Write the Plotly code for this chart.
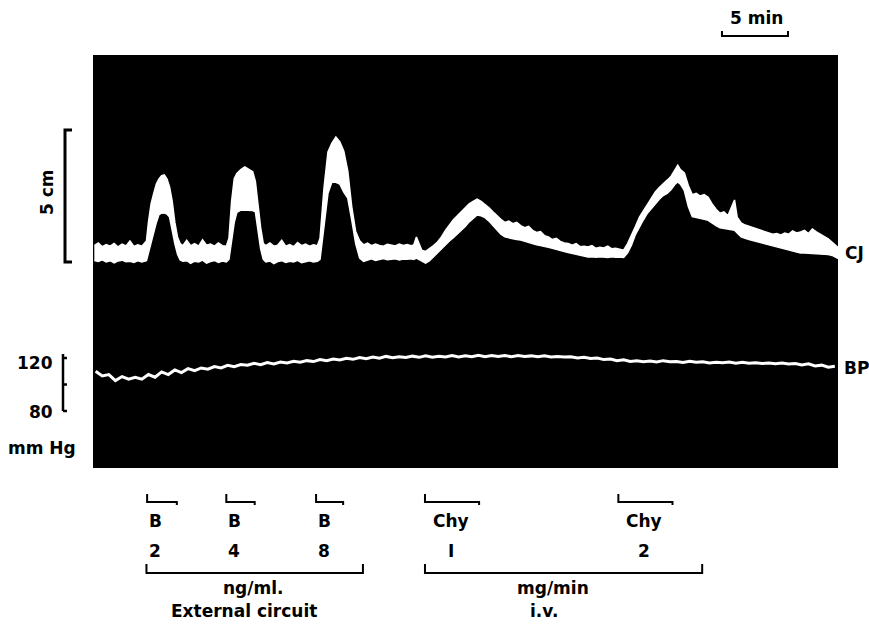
import plotly.graph_objects as go

# ---------------- data (time in min, CJ in cm deflection, BP in mm Hg) ----------------
CJ_TIME = [0.1, 0.4, 0.7, 1.0, 1.3, 1.6, 1.9, 2.2, 2.5, 2.8, 3.1, 3.4, 3.7,
           4.05, 4.2, 4.4, 4.6, 4.8, 5.0, 5.2, 5.4, 5.6, 5.8, 6.0, 6.2, 6.4, 6.6, 6.8,
           7.1, 7.4, 7.7, 8.0, 8.3, 8.6, 8.9, 9.2, 9.5, 9.8, 10.1,
           10.3, 10.5, 10.7, 10.9, 11.2, 11.5, 11.8, 12.1, 12.3, 12.5, 12.7, 12.9, 13.1,
           13.4, 13.7, 14.0, 14.3, 14.6, 14.9, 15.2, 15.5, 15.8, 16.1, 16.4, 16.7, 17.0,
           17.2, 17.5, 17.8, 18.1, 18.4, 18.7, 19.0, 19.3, 19.6, 19.9, 20.2, 20.5,
           20.8, 21.1, 21.4, 21.7, 22.0, 22.3, 22.6, 22.9, 23.2, 23.5, 23.8, 24.1,
           24.3, 24.5, 24.7, 24.9, 25.2, 25.5, 25.8, 26.1, 26.4, 26.7, 27.0, 27.3, 27.6,
           27.9, 28.2, 28.5, 28.8, 29.1, 29.4, 29.7, 30.0, 30.3, 30.6, 30.9, 31.2, 31.5,
           31.8, 32.1, 32.4, 32.7, 33.0, 33.3, 33.6, 33.9, 34.2, 34.5, 34.8, 35.1, 35.4,
           35.7, 36.0, 36.3, 36.6, 36.9, 37.2, 37.5, 37.8, 38.1, 38.4, 38.7, 39.0, 39.3,
           39.6, 39.9, 40.2, 40.5, 40.8, 41.1, 41.4, 41.7, 42.0, 42.3, 42.6, 42.9, 43.2,
           43.5, 43.8, 44.1, 44.3, 44.5, 44.8, 45.1, 45.4, 45.7, 46.0, 46.3, 46.6, 46.9,
           47.2, 47.5, 47.8, 48.1, 48.4, 48.6, 48.8, 49.1, 49.4, 49.7, 50.0, 50.3, 50.6,
           50.9, 51.2, 51.5, 51.8, 52.1, 52.4, 52.7, 53.0, 53.3, 53.6, 53.9, 54.2, 54.5,
           54.8, 55.1, 55.4, 55.7, 56.0, 56.4]

CJ_UPPER = [0.62, 0.72, 0.58, 0.66, 0.60, 0.70, 0.57, 0.68, 0.61, 0.80, 0.59, 0.65, 0.60,
            0.80, 1.50, 2.20, 2.60, 2.95, 3.15, 3.27, 3.30, 3.15, 2.84, 2.30, 1.50, 0.95, 0.70, 0.62,
            0.82, 0.62, 0.70, 0.60, 0.84, 0.64, 0.68, 0.60, 0.72, 0.62, 0.60,
            0.90, 2.30, 3.15, 3.35, 3.50, 3.60, 3.50, 3.42, 3.05, 2.20, 1.30, 0.70, 0.62,
            0.72, 0.60, 0.64, 0.82, 0.60, 0.66, 0.58, 0.74, 0.62, 0.68, 0.60, 0.65, 0.62,
            0.90, 2.80, 4.17, 4.50, 4.73, 4.55, 4.20, 3.45, 2.10, 1.15, 0.80, 0.65,
            0.72, 0.62, 0.68, 0.63, 0.60, 0.67, 0.65, 0.61, 0.68, 0.63, 0.66, 0.62,
            0.64, 0.95, 0.70, 0.45, 0.40, 0.50, 0.62, 0.76, 0.95, 1.20, 1.42, 1.60, 1.75,
            1.90, 2.05, 2.20, 2.30, 2.38, 2.30, 2.18, 2.05, 1.90, 1.75, 1.62, 1.50, 1.55,
            1.45, 1.50, 1.38, 1.30, 1.35, 1.20, 1.12, 1.15, 1.00, 0.95, 0.85, 0.90, 0.78,
            0.72, 0.70, 0.64, 0.70, 0.58, 0.60, 0.57, 0.62, 0.52, 0.56, 0.53, 0.60, 0.50,
            0.52, 0.48, 0.45, 0.70, 1.00, 1.35, 1.70, 1.95, 2.20, 2.45, 2.65, 2.82, 2.98,
            3.10, 3.25, 3.50, 3.67, 3.50, 3.37, 2.90, 2.55, 2.60, 2.50, 2.55, 2.45, 2.20,
            2.00, 1.85, 1.90, 1.75, 2.10, 2.35, 1.70, 1.48, 1.40, 1.35, 1.30, 1.25, 1.21,
            1.15, 1.10, 1.05, 1.08, 1.02, 1.10, 1.05, 1.18, 1.10, 1.14, 1.20, 1.08, 1.25,
            1.14, 1.05, 0.95, 0.88, 0.75, 0.57]

CJ_LOWER = [0.06, 0.02, 0.08, 0.00, 0.05, -0.03, 0.04, 0.07, 0.01, 0.03, -0.02, 0.05, 0.00,
            0.05, 0.35, 0.75, 1.10, 1.50, 1.80, 1.85, 1.86, 1.82, 1.70, 1.20, 0.70, 0.30, 0.08, 0.03,
            0.05, -0.05, 0.03, 0.00, 0.07, -0.04, 0.02, 0.06, -0.02, 0.04, 0.00,
            0.10, 0.80, 1.50, 1.88, 1.97, 1.97, 1.96, 1.95, 1.90, 1.20, 0.50, 0.10, 0.00,
            0.04, -0.06, 0.02, 0.05, -0.02, 0.03, 0.00, 0.06, -0.03, 0.02, 0.05, 0.00, 0.03,
            0.10, 1.30, 2.60, 3.03, 3.02, 2.95, 2.65, 2.42, 1.60, 0.70, 0.15, 0.02,
            0.08, 0.12, 0.06, 0.10, 0.13, 0.09, 0.10, 0.12, 0.08, 0.11, 0.10, 0.12,
            0.10, 0.15, 0.12, 0.05, -0.04, 0.05, 0.20, 0.38, 0.50, 0.65, 0.80, 0.92, 1.08,
            1.20, 1.35, 1.52, 1.65, 1.78, 1.75, 1.68, 1.55, 1.38, 1.20, 1.05, 0.95, 0.92,
            0.88, 0.85, 0.83, 0.80, 0.74, 0.70, 0.65, 0.62, 0.60, 0.56, 0.52, 0.48, 0.45,
            0.40, 0.36, 0.33, 0.28, 0.25, 0.22, 0.19, 0.20, 0.18, 0.20, 0.19, 0.17, 0.20,
            0.18, 0.19, 0.17, 0.35, 0.65, 1.05, 1.35, 1.60, 1.85, 2.05, 2.20, 2.38, 2.52,
            2.60, 2.75, 2.95, 3.03, 2.95, 2.70, 2.10, 1.72, 1.70, 1.65, 1.62, 1.58, 1.48,
            1.38, 1.30, 1.28, 1.25, 1.22, 1.20, 1.10, 0.95, 0.90, 0.85, 0.80, 0.76, 0.72,
            0.68, 0.63, 0.60, 0.56, 0.53, 0.50, 0.46, 0.42, 0.38, 0.34, 0.34, 0.33, 0.34,
            0.33, 0.30, 0.29, 0.28, 0.25, 0.15]

BP_TIME = [0.2, 0.7, 1.2, 1.7, 2.2, 2.7, 3.2, 3.7, 4.2, 4.7, 5.2, 5.7, 6.2, 6.7, 7.2, 7.7,
           8.2, 8.7, 9.2, 9.7, 10.2, 10.7, 11.2, 11.7, 12.2, 12.7, 13.2, 13.7, 14.2, 14.7,
           15.2, 15.7, 16.2, 16.7, 17.2, 17.7, 18.2, 18.7, 19.2, 19.7, 20.2, 20.7, 21.2,
           21.7, 22.2, 22.7, 23.2, 23.7, 24.2, 24.7, 25.2, 25.7, 26.2, 26.7, 27.2, 27.7,
           28.2, 28.7, 29.2, 29.7, 30.2, 30.7, 31.2, 31.7, 32.2, 32.7, 33.2, 33.7, 34.2,
           34.7, 35.2, 35.7, 36.2, 36.7, 37.2, 37.7, 38.2, 38.7, 39.2, 39.7, 40.2, 40.7,
           41.2, 41.7, 42.2, 42.7, 43.2, 43.7, 44.2, 44.7, 45.2, 45.7, 46.2, 46.7, 47.2,
           47.7, 48.2, 48.7, 49.2, 49.7, 50.2, 50.7, 51.2, 51.7, 52.2, 52.7, 53.2, 53.7,
           54.2, 54.7, 55.2, 55.7, 56.2]

BP_MMHG = [110.0, 106.5, 107.5, 103.0, 106.0, 104.0, 105.5, 104.0, 107.5, 105.5, 109.5,
           107.5, 111.0, 109.0, 112.0, 110.5, 112.5, 111.5, 113.5, 112.5, 114.5, 113.5,
           115.0, 114.5, 116.0, 115.0, 116.5, 115.5, 117.0, 116.3, 117.5, 116.8, 118.0,
           117.3, 118.8, 118.0, 119.3, 118.5, 119.8, 119.0, 120.3, 119.5, 120.8, 119.8,
           121.2, 120.2, 121.0, 120.4, 121.4, 120.5, 121.6, 120.6, 121.4, 120.8, 121.8,
           120.8, 121.6, 121.0, 122.0, 121.0, 121.8, 121.2, 121.8, 121.0, 121.8, 121.2,
           121.6, 121.0, 121.6, 120.8, 121.2, 120.8, 121.0, 120.0, 120.6, 119.6, 120.0,
           118.8, 119.2, 118.0, 118.6, 117.4, 118.0, 117.2, 117.8, 117.0, 118.0, 117.2,
           117.4, 116.6, 117.6, 116.8, 117.2, 116.2, 116.8, 116.4, 117.0, 116.0, 116.8,
           116.0, 116.4, 115.8, 116.2, 115.6, 116.2, 115.4, 115.8, 114.8, 115.6, 114.0,
           114.6, 113.0, 113.8]

# infusion periods (min)
INF_LABELS = ["B", "B", "B", "Chy", "Chy"]
INF_DOSES = ["2", "4", "8", "I", "2"]
INF_START = [4.1, 10.1, 16.9, 25.15, 39.8]
INF_END = [6.35, 12.25, 18.95, 29.25, 43.9]

GROUP_LINES = [("ng/ml.", "External circuit"), ("mg/min", "i.v.")]
GROUP_START = [4.05, 25.15]
GROUP_END = [20.45, 46.15]

TIME_BAR_START = 47.65
TIME_BAR_LEN = 5          # min
CJ_BAR = 5                # cm
BP_TICKS = [80, 100, 120]

# ---------------- layout geometry ----------------
W, H = 869, 628
L, R, T, B = 93, 838, 55, 468
PX_PER_MIN = 13.2
PX_PER_CM = 26.4
CJ_ZERO_PY = 262
BP_REF, BP_REF_PY, PX_PER_MMHG = 120, 358, 1.325


def px(xpx):
    return (xpx - L) / (R - L)


def py(ypx):
    return (B - ypx) / (B - T)


x_range = [0, (R - L) / PX_PER_MIN]
cj_range = [-(B - CJ_ZERO_PY) / PX_PER_CM, (CJ_ZERO_PY - T) / PX_PER_CM]
bp_range = [BP_REF - (B - BP_REF_PY) / PX_PER_MMHG, BP_REF + (BP_REF_PY - T) / PX_PER_MMHG]

FONT = dict(family="DejaVu Sans", size=17, color="black", weight="bold")


def label(text, x, y, xref="paper", yref="paper", xanchor="center", **kw):
    return dict(text=text, x=x, y=y, xref=xref, yref=yref, xanchor=xanchor,
                yanchor="middle", showarrow=False, font=FONT, **kw)


fig = go.Figure()
fig.add_trace(go.Scatter(
    x=CJ_TIME + CJ_TIME[::-1], y=CJ_UPPER + CJ_LOWER[::-1],
    fill="toself", fillcolor="white", mode="lines",
    line=dict(color="white", width=1.5), hoverinfo="skip", showlegend=False))
fig.add_trace(go.Scatter(
    x=BP_TIME, y=BP_MMHG, yaxis="y2", mode="lines",
    line=dict(color="white", width=3), hoverinfo="skip", showlegend=False))

shapes = []
annotations = []
# 5 cm bar
shapes.append(dict(type="path", xref="paper", yref="y",
                   path=f"M {px(72)},{CJ_BAR} L {px(65)},{CJ_BAR} L {px(65)},0 L {px(72)},0",
                   line=dict(color="black", width=3)))
annotations.append(label("5 cm", px(47), py(192), textangle=-90))
# BP bar
bp_path = f"M {px(63)},{BP_TICKS[0]} L {px(63)},{BP_TICKS[-1] + 3}"
for tk in BP_TICKS:
    bp_path += f" M {px(63)},{tk} L {px(67)},{tk}"
shapes.append(dict(type="path", xref="paper", yref="y2", path=bp_path,
                   line=dict(color="black", width=2.5)))
annotations.append(label("120", px(55), py(363), xanchor="right"))
annotations.append(label("80", px(55), py(412), xanchor="right"))
annotations.append(label("mm Hg", px(42), py(448)))
# trace labels
annotations.append(label("CJ", px(843), py(253), xanchor="left"))
annotations.append(label("BP", px(842), py(368), xanchor="left"))
# time bar
tb0, tb1 = TIME_BAR_START, TIME_BAR_START + TIME_BAR_LEN
shapes.append(dict(type="path", xref="x", yref="paper",
                   path=f"M {tb0},{py(31)} L {tb0},{py(36)} L {tb1},{py(36)} L {tb1},{py(31)}",
                   line=dict(color="black", width=2)))
annotations.append(label("5 min", (tb0 + tb1) / 2, py(18), xref="x", xshift=2))
# infusion brackets
for lab, dose, s, e in zip(INF_LABELS, INF_DOSES, INF_START, INF_END):
    shapes.append(dict(type="path", xref="x", yref="paper",
                       path=f"M {s},{py(494)} L {s},{py(502)} L {e},{py(502)} L {e},{py(505)}",
                       line=dict(color="black", width=2)))
    shift = 8 if lab == "B" else 26
    annotations.append(label(lab, s, py(521), xref="x", xshift=shift))
    annotations.append(label(dose, s, py(551), xref="x", xshift=shift))
# group brackets
line_shifts = [(-2, -11), (-11, -20)]
for (l1, l2), s, e, (sh1, sh2) in zip(GROUP_LINES, GROUP_START, GROUP_END, line_shifts):
    shapes.append(dict(type="path", xref="x", yref="paper",
                       path=f"M {s},{py(564)} L {s},{py(573)} L {e},{py(573)} L {e},{py(564)}",
                       line=dict(color="black", width=2)))
    annotations.append(label(l1, (s + e) / 2, py(588), xref="x", xshift=sh1))
    annotations.append(label(l2, (s + e) / 2, py(611), xref="x", xshift=sh2))

fig.update_layout(
    width=W, height=H,
    margin=dict(l=L, r=W - R, t=T, b=H - B, pad=0),
    paper_bgcolor="white", plot_bgcolor="black",
    xaxis=dict(range=x_range, visible=False, fixedrange=True),
    yaxis=dict(range=cj_range, visible=False, fixedrange=True),
    yaxis2=dict(range=bp_range, visible=False, overlaying="y", fixedrange=True),
    shapes=shapes, annotations=annotations, showlegend=False,
)
fig.write_html("out.html", config={"displayModeBar": False})
